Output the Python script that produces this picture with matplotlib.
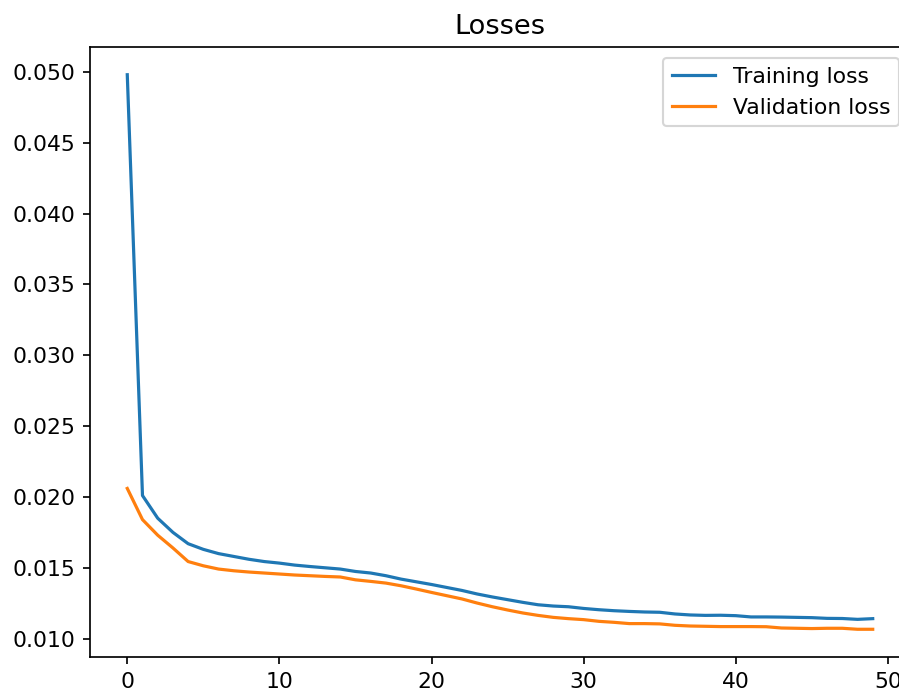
import matplotlib
matplotlib.use("Agg")
import matplotlib.pyplot as plt

# loss values per epoch
train_loss = [0.0498, 0.0201, 0.0185, 0.0175, 0.0167, 0.0163, 0.0160, 0.0158, 0.0156, 0.01544,
              0.01533, 0.01519, 0.01509, 0.0150, 0.01491, 0.01474, 0.01463, 0.01444, 0.0142, 0.01401,
              0.01382, 0.01361, 0.0134, 0.01315, 0.01294, 0.01275, 0.01256, 0.01239, 0.0123, 0.01225,
              0.01213, 0.01204, 0.01197, 0.01192, 0.01188, 0.01186, 0.01174, 0.01167, 0.01164, 0.01165,
              0.01162, 0.01153, 0.01153, 0.01152, 0.0115, 0.01148, 0.01143, 0.01142, 0.01136, 0.01141]
val_loss = [0.0206, 0.0184, 0.0173, 0.0164, 0.01544, 0.01514, 0.01491, 0.01479, 0.0147, 0.01463,
            0.01456, 0.01449, 0.01444, 0.01439, 0.01435, 0.01415, 0.01404, 0.01392, 0.01373, 0.0135,
            0.01326, 0.01303, 0.0128, 0.01251, 0.01225, 0.01202, 0.01181, 0.01164, 0.0115, 0.01141,
            0.01134, 0.01122, 0.01115, 0.01106, 0.01106, 0.01104, 0.01094, 0.01089, 0.01087, 0.01085,
            0.01085, 0.01085, 0.01084, 0.01075, 0.01073, 0.01071, 0.01073, 0.01073, 0.01066, 0.01066]

plt.rcParams['font.size'] = 10.3

fig = plt.figure(figsize=(899 / 153, 695 / 153), dpi=153)
ax = fig.add_axes([90 / 899, 38 / 695, 820 / 899, 610 / 695])

ax.plot(train_loss, label="Training loss")
ax.plot(val_loss, label="Validation loss")
ax.set_title("Losses", fontsize=12.8)
ax.legend()

fig.savefig("out.png", dpi=153)
